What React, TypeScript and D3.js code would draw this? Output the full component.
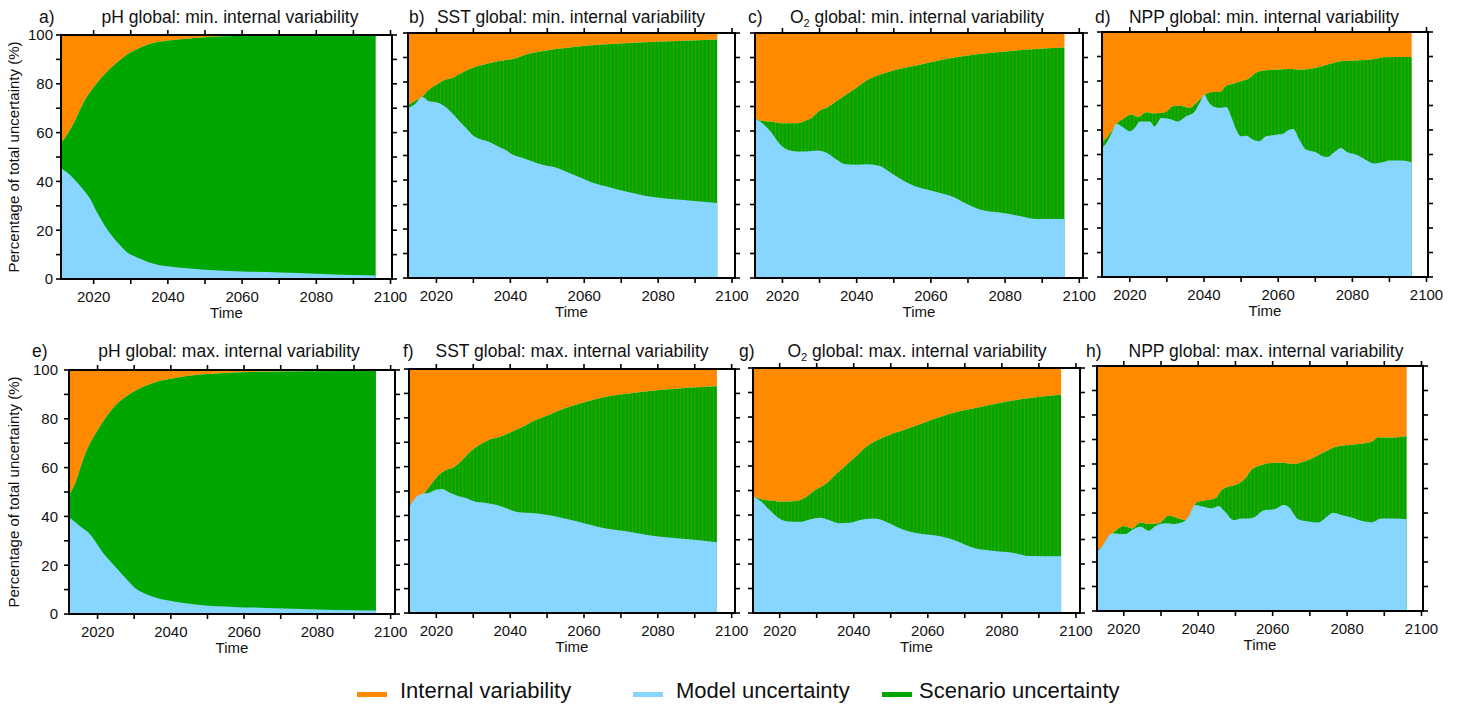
import React from 'react';
import * as d3 from 'd3';

type Pt = [number, number];

const ORANGE = '#ff8a00';
const BLUE = '#87d6ff';
const GREEN = '#00a600';
const FONT = '"Liberation Sans", Arial, Helvetica, sans-serif';

// [year, % of total uncertainty]
// "Model" = model uncertainty share, "Cum" = model + scenario share (top of the green band)

// a) pH min
const phMinModel: Pt[] = [
  [2011.2, 45.4], [2013, 43.5], [2015, 40.5], [2017, 37], [2019, 33], [2021, 27], [2023, 21.8],
  [2025, 17.5], [2027, 14], [2029, 11], [2031, 9.3], [2033, 8], [2035, 6.8],
  [2040, 5.2], [2045, 4.4], [2050, 3.8], [2060, 3.1], [2070, 2.7], [2080, 2.2], [2090, 1.6], [2096, 1.4],
];
const phMinCum: Pt[] = [
  [2011.2, 55.7], [2013, 59.5], [2015, 65], [2017, 71.5], [2019, 76.5], [2021, 80.5], [2023, 84],
  [2025, 87], [2027, 89.7], [2029, 92], [2031.5, 94.1], [2035, 96.3], [2040, 97.7],
  [2048.6, 98.9], [2057.7, 99.6], [2096, 99.8],
];

// b) SST min
const sstMinModel: Pt[] = [
  [2012.3, 69.4], [2014, 70.7], [2016.2, 73.9], [2018, 72.1], [2020, 71.7], [2022, 70.3], [2023.8, 68],
  [2026, 64.4], [2028, 61.2], [2030, 58.1], [2031.8, 56.7], [2034.5, 55.4], [2036.7, 53.7], [2038.5, 52.4],
  [2040.7, 50.3], [2043.4, 49], [2046, 47.6], [2049.6, 45.9], [2051.9, 45.3], [2055, 43.5], [2058.6, 41.2],
  [2062.1, 39], [2066.6, 37.1], [2071, 35.4], [2076.4, 33.6], [2080.9, 32.7], [2085.4, 32], [2089.8, 31.4],
  [2096, 30.6],
];
const sstMinCum: Pt[] = [
  [2012.3, 70.5], [2014, 72.1], [2016.2, 74.1], [2018, 76.9], [2020, 78.9], [2022, 80.7], [2024.2, 81.6],
  [2026.4, 83.4], [2029, 85.3], [2031.8, 86.7], [2034.5, 87.8], [2038, 88.8], [2040.7, 89.4], [2045.2, 91.6],
  [2049.6, 92.9], [2055, 93.9], [2060.4, 94.8], [2067.5, 95.5], [2076.4, 96.2], [2085.4, 96.7], [2096, 97.3],
];

// c) O2 min
const o2MinModel: Pt[] = [
  [2012.6, 65.2], [2014.6, 63.2], [2016.8, 59.8], [2019.1, 55], [2021.4, 52.3], [2024, 51.6], [2026.3, 51.6],
  [2029.5, 52], [2031.7, 51.2], [2034.4, 48.5], [2037.1, 46.4], [2039.8, 46.2], [2042.5, 46.4], [2046.1, 45.8],
  [2048.8, 43.4], [2051.5, 40.7], [2055.1, 37.9], [2058.7, 36.2], [2062.3, 34.8], [2065.9, 33.2], [2069.5, 30.4],
  [2073.2, 28], [2076.8, 27], [2080.4, 26.3], [2084.9, 25], [2088.5, 24.1], [2096, 24.1],
];
const o2MinCum: Pt[] = [
  [2012.6, 65.2], [2014.6, 64.1], [2017.3, 63.8], [2019.5, 63.2], [2021.8, 63.2], [2024, 63.2], [2026.3, 64.3],
  [2027.7, 65.2], [2029.9, 68.2], [2032.2, 69.7], [2034.4, 72], [2037.1, 74.8], [2039.8, 77.5], [2042.5, 80.5],
  [2045.2, 82.5], [2047.9, 83.8], [2050.6, 85], [2055.1, 86.4], [2059.6, 88], [2064.1, 89.4], [2069.5, 90.7],
  [2075.9, 91.8], [2083.1, 92.9], [2089.4, 93.6], [2096, 94.1],
];

// d) NPP min
const nppMinModel: Pt[] = [
  [2012.5, 52.7], [2013.7, 54.7], [2015.1, 58.8], [2016.4, 62.6], [2017.8, 61.5], [2020, 59.5], [2021.3, 60.8],
  [2022.7, 63.5], [2025.4, 63.5], [2026.7, 61.5], [2028.5, 64.9], [2030.8, 64.5], [2033, 63.5], [2035.2, 65.6],
  [2037.5, 67.6], [2038.8, 71], [2040.2, 74.4], [2041.1, 71.7], [2042.4, 69.7], [2044.2, 69], [2046, 69.4],
  [2047.3, 65.6], [2048.7, 60.1], [2050, 57.4], [2051.4, 57.7], [2053.2, 56.1], [2054.9, 55.4], [2056.7, 57.4],
  [2059.4, 58.1], [2061.2, 58.5], [2063, 60.1], [2064.1, 60.4], [2065.7, 56.1], [2067.5, 52], [2070.2, 50.9],
  [2072, 49.3], [2073.3, 49], [2075.1, 50.9], [2076.9, 52.7], [2078.7, 50.9], [2080.9, 50], [2083.6, 47.9],
  [2085.9, 46.3], [2088.1, 46.8], [2089.9, 47.6], [2093.5, 47.6], [2096, 46.8],
];
const nppMinCum: Pt[] = [
  [2012.5, 54.7], [2013.7, 56.7], [2015.1, 59.5], [2016.4, 62.6], [2018.2, 64.5], [2020.4, 66.3], [2022.2, 65.3],
  [2024.5, 67.2], [2026.3, 66.7], [2028.1, 66.9], [2029.9, 67.6], [2031.6, 69.7], [2033.4, 69.9], [2036.1, 69],
  [2037.9, 71], [2040.2, 74.4], [2042.4, 75.5], [2044.2, 75.5], [2046, 78.1], [2047.8, 78.9], [2050, 79.9],
  [2052.3, 81.2], [2054.1, 83.5], [2056.7, 84.4], [2059.4, 84.6], [2063, 84.9], [2065.7, 84.6], [2068.4, 84.9],
  [2071.1, 85.7], [2073.8, 86.9], [2076.5, 88], [2080.9, 88.4], [2086.3, 89], [2088.1, 89.7], [2096, 89.8],
];

// e) pH max
const phMaxModel: Pt[] = [
  [2012.2, 39.7], [2014.3, 37.2], [2016.2, 34.8], [2017.5, 33.4], [2019.4, 29.7], [2021.2, 25.6], [2023.5, 21.6],
  [2025.7, 17.9], [2028, 14.1], [2030.3, 10.6], [2032.6, 8.6], [2035.3, 7], [2039, 5.6], [2043.5, 4.5],
  [2048.1, 3.7], [2057.2, 2.9], [2066.3, 2.5], [2075.4, 2], [2084.5, 1.6], [2096, 1.4],
];
const phMaxCum: Pt[] = [
  [2012.2, 48.8], [2013.9, 53.6], [2015.7, 61.8], [2017.5, 68.6], [2019.8, 74.8], [2022.1, 80.2], [2024.4, 84.7],
  [2027.1, 88.4], [2029.8, 91.1], [2032.6, 93.2], [2036.2, 95.2], [2040.8, 96.6], [2045.3, 97.7], [2052.6, 98.6],
  [2061.8, 99.2], [2075.4, 99.5], [2096, 99.6],
];

// f) SST max
const sstMaxModel: Pt[] = [
  [2012.6, 43], [2013.9, 46.4], [2016.2, 48.9], [2018, 49.2], [2019.8, 50.5], [2021.6, 50.8], [2023.4, 49.5],
  [2025.7, 48.1], [2028, 47.1], [2030.2, 45.8], [2033.4, 45.1], [2036.1, 44.4], [2038.8, 43], [2042.4, 41.3],
  [2046.1, 41], [2049.7, 40.3], [2052.4, 39.6], [2056, 38.3], [2060.5, 36.6], [2066, 34.6], [2071.4, 33.5],
  [2076.8, 32.1], [2082.3, 31], [2087.7, 30.3], [2096, 29],
];
const sstMaxCum: Pt[] = [
  [2012.6, 43.9], [2014.4, 46.7], [2016.7, 49.2], [2018.5, 52.6], [2020.7, 56.7], [2022.5, 58.5], [2024.8, 59.8],
  [2027.1, 62.8], [2029.3, 66.3], [2031.6, 68.7], [2034.3, 71], [2037, 72.1], [2039.7, 73.8], [2043.3, 76.2],
  [2047, 79.2], [2050.6, 81.3], [2054.2, 83.6], [2058.7, 85.8], [2063.3, 87.7], [2067.8, 89.1], [2073.2, 90.2],
  [2078.6, 91.1], [2084.1, 91.8], [2090.4, 92.5], [2096, 92.9],
];

// g) O2 max
const o2MaxModel: Pt[] = [
  [2012.8, 47.7], [2015.1, 45.4], [2017.3, 42], [2019.6, 38.9], [2021.8, 37.5], [2025.4, 37.2], [2028.1, 38.2],
  [2030.8, 38.9], [2033.5, 37.9], [2036.2, 36.6], [2038.8, 36.8], [2041.5, 37.9], [2045.1, 38.6], [2046.9, 38.3],
  [2049.6, 36.6], [2053.2, 34.1], [2056.8, 32.7], [2060.4, 31.9], [2064, 31.1], [2067.6, 29.5], [2073, 26.3],
  [2077.4, 25.4], [2082.8, 24.6], [2087.3, 23.3], [2096, 23.2],
];
const o2MaxCum: Pt[] = [
  [2012.8, 47.7], [2015.1, 46.4], [2018.2, 45.8], [2020.9, 45.4], [2024.5, 45.7], [2027.2, 47.5], [2029.9, 50.5],
  [2032.6, 52.9], [2035.3, 56.8], [2038, 60.4], [2040.7, 64.1], [2043.4, 67.9], [2046, 70.3], [2049.6, 72.7],
  [2054.1, 75], [2058.6, 77.5], [2063.1, 79.9], [2068.5, 82.3], [2073.9, 84], [2079.3, 85.7], [2085.5, 87.3],
  [2090.9, 88.4], [2096, 89.1],
];

// h) NPP max
const nppMaxModel: Pt[] = [
  [2012.8, 24.2], [2014.2, 26.3], [2015.5, 29.7], [2016.9, 31.7], [2018.7, 31.4], [2020.4, 31.4], [2022.2, 33.1],
  [2024.5, 34.4], [2026.7, 32.8], [2028.5, 34.7], [2031.2, 35.8], [2033.4, 35.5], [2035.6, 36.1], [2037.4, 38.5],
  [2039.2, 43.3], [2041.4, 42.6], [2043.7, 41.9], [2045.4, 42.9], [2047.2, 40.5], [2049.5, 37.1], [2051.7, 37.8],
  [2053.5, 37.8], [2055.3, 38.5], [2057.5, 41], [2060.6, 41.6], [2062.9, 43.3], [2064.2, 42.6], [2066.9, 37.4],
  [2069.6, 36.5], [2072.2, 36.1], [2074, 37.8], [2076.3, 40.1], [2078.5, 39.2], [2081.2, 38.2], [2084.7, 36.5],
  [2086.5, 36.2], [2089.2, 37.8], [2092.8, 37.8], [2096, 37.4],
];
const nppMaxCum: Pt[] = [
  [2012.8, 24.8], [2014.2, 26.3], [2015.5, 29.7], [2016.9, 31.7], [2018.2, 33.3], [2020, 34.7], [2022.2, 33.7],
  [2024.5, 36.1], [2026.7, 35.5], [2029.4, 35.8], [2032.1, 38.9], [2034.7, 37.8], [2036.5, 37.1], [2037.9, 39.9],
  [2039.6, 44.4], [2041.4, 45], [2044.6, 46], [2046.3, 49.4], [2048.1, 50.7], [2049.9, 51.4], [2052.6, 54.1],
  [2054.4, 57.8], [2057.1, 59.6], [2058.9, 60.3], [2062.5, 60.5], [2065.2, 60], [2067, 60.3], [2069.6, 61.6],
  [2072.3, 63.7], [2075, 65.7], [2077.2, 67.1], [2082.1, 68], [2086.6, 69.1], [2088.4, 70.9], [2091.1, 70.7],
  [2096, 71.4],
];

const legendLabels = ['Internal variability', 'Model uncertainty', 'Scenario uncertainty'];
const legendColors = [ORANGE, BLUE, GREEN];

type PanelCfg = {
  key: string;
  tag: string;
  variable: string;
  sub?: string;
  rest: string;
  model: Pt[];
  cum: Pt[];
  box: [number, number, number, number]; // left, top, right, bottom
  domain: [number, number];
  tagX: number;
  titleX: number;
  titleY: number;
  striped: boolean;
  yLabels: boolean;
  yGap: number;
};

const MIN = ' global: min. internal variability';
const MAX = ' global: max. internal variability';

const panels: PanelCfg[] = [
  { key: 'a', tag: 'a)', variable: 'pH', rest: MIN, model: phMinModel, cum: phMinCum,
    box: [61, 35, 392, 279], domain: [2011.2, 2100.4], tagX: 39, titleX: 230, titleY: 23, striped: false, yLabels: true, yGap: 8 },
  { key: 'b', tag: 'b)', variable: 'SST', rest: MIN, model: sstMinModel, cum: sstMinCum,
    box: [408, 33, 735, 278], domain: [2012.3, 2100.8], tagX: 409, titleX: 571, titleY: 23, striped: true, yLabels: false, yGap: 8 },
  { key: 'c', tag: 'c)', variable: 'O', sub: '2', rest: MIN, model: o2MinModel, cum: o2MinCum,
    box: [755, 33, 1083, 278], domain: [2012.6, 2101], tagX: 748, titleX: 917, titleY: 23, striped: true, yLabels: false, yGap: 8 },
  { key: 'd', tag: 'd)', variable: 'NPP', rest: MIN, model: nppMinModel, cum: nppMinCum,
    box: [1102, 32, 1428, 277], domain: [2012.5, 2100.4], tagX: 1095, titleX: 1264, titleY: 23, striped: true, yLabels: false, yGap: 8 },
  { key: 'e', tag: 'e)', variable: 'pH', rest: MAX, model: phMaxModel, cum: phMaxCum,
    box: [69, 370, 395, 614], domain: [2012.2, 2101.2], tagX: 32, titleX: 229, titleY: 357, striped: false, yLabels: true, yGap: 11 },
  { key: 'f', tag: 'f)', variable: 'SST', rest: MAX, model: sstMaxModel, cum: sstMaxCum,
    box: [409, 369, 735, 613], domain: [2012.6, 2100.9], tagX: 403, titleX: 572, titleY: 357, striped: true, yLabels: false, yGap: 8 },
  { key: 'g', tag: 'g)', variable: 'O', sub: '2', rest: MAX, model: o2MaxModel, cum: o2MaxCum,
    box: [753, 368, 1080, 613], domain: [2012.8, 2101.1], tagX: 739, titleX: 917, titleY: 357, striped: true, yLabels: false, yGap: 8 },
  { key: 'h', tag: 'h)', variable: 'NPP', rest: MAX, model: nppMaxModel, cum: nppMaxCum,
    box: [1097, 366, 1423, 611], domain: [2012.8, 2100.4], tagX: 1086, titleX: 1266, titleY: 357, striped: true, yLabels: false, yGap: 8 },
];

const TICK = 5;

function Panel({ p }: { p: PanelCfg }) {
  const [l, t, r, b] = p.box;
  const x = d3.scaleLinear().domain(p.domain).range([l, r]);
  const y = d3.scaleLinear().domain([0, 100]).range([b, t]);

  // internal variability: from top of green band to 100 %
  const internalArea = d3.area<Pt>()
    .x(d => x(d[0]))
    .y0(d => y(d[1]))
    .y1(y(100))
    .curve(d3.curveMonotoneX);
  const fromZero = d3.area<Pt>()
    .x(d => x(d[0]))
    .y0(y(0))
    .y1(d => y(d[1]))
    .curve(d3.curveMonotoneX);

  const xTicks = x.ticks(10);
  const yTicks = y.ticks(10);
  const yearW = x(2013) - x(2012);
  const pid = `stripes-${p.key}`;

  return (
    <g>
      {p.striped && (
        <defs>
          <pattern id={pid} patternUnits="userSpaceOnUse" x={x(2012)} y={t} width={yearW} height={b - t}>
            <rect width={yearW} height={b - t} fill={GREEN} />
            <line x1={0.4} x2={0.4} y1={0} y2={b - t} stroke={ORANGE} strokeOpacity={0.35} strokeWidth={0.8} />
          </pattern>
        </defs>
      )}
      <path d={internalArea(p.cum) || ''} fill={ORANGE} />
      <path d={fromZero(p.cum) || ''} fill={p.striped ? `url(#${pid})` : GREEN} />
      <path d={fromZero(p.model) || ''} fill={BLUE} />

      <rect x={l} y={t} width={r - l} height={b - t} fill="none" stroke="#000" strokeWidth={2} />

      {xTicks.map(v => (
        <g key={`x${v}`}>
          <line x1={x(v)} x2={x(v)} y1={t} y2={t - TICK} stroke="#000" strokeWidth={1.6} />
          <line x1={x(v)} x2={x(v)} y1={b} y2={b + TICK} stroke="#000" strokeWidth={1.6} />
          {v % 20 === 0 && (
            <text x={x(v)} y={b + 23} textAnchor="middle" fontSize={15} fontFamily={FONT} fill="#111">{v}</text>
          )}
        </g>
      ))}
      {yTicks.map(v => (
        <g key={`y${v}`}>
          <line x1={l} x2={l - TICK} y1={y(v)} y2={y(v)} stroke="#000" strokeWidth={1.6} />
          <line x1={r} x2={r + TICK} y1={y(v)} y2={y(v)} stroke="#000" strokeWidth={1.6} />
          {p.yLabels && v % 20 === 0 && (
            <text x={l - p.yGap} y={y(v)} dy="0.36em" textAnchor="end" fontSize={15} fontFamily={FONT} fill="#111">{v}</text>
          )}
        </g>
      ))}

      <text x={(l + r) / 2} y={b + 39} textAnchor="middle" fontSize={15} fontFamily={FONT} fill="#111">Time</text>
      {p.yLabels && (
        <text
          transform={`translate(${19},${(t + b) / 2}) rotate(-90)`}
          textAnchor="middle"
          fontSize={15}
          fontFamily={FONT}
          fill="#111"
        >
          Percentage of total uncertainty (%)
        </text>
      )}

      <text x={p.tagX} y={p.titleY} fontSize={17.5} fontFamily={FONT} fill="#111">{p.tag}</text>
      <text x={p.titleX} y={p.titleY} textAnchor="middle" fontSize={17.5} fontFamily={FONT} fill="#111">
        {p.variable}
        {p.sub && <tspan fontSize={11} dy={4}>{p.sub}</tspan>}
        {p.sub ? <tspan dy={-4}>{p.rest}</tspan> : p.rest}
      </text>
    </g>
  );
}

const legendSwatchX = [357, 633, 882];
const legendTextX = [400, 676, 919];

export default function App() {
  return (
    <div style={{ position: 'absolute', left: 0, top: 0 }}>
      <svg width={1457} height={706} style={{ display: 'block', background: '#fff' }}>
        {panels.map(p => <Panel key={p.key} p={p} />)}
        {legendLabels.map((label, i) => (
          <g key={label}>
            <rect x={legendSwatchX[i]} y={692} width={30} height={5} fill={legendColors[i]} />
            <text x={legendTextX[i]} y={698} fontSize={22} fontFamily={FONT} fill="#111">{label}</text>
          </g>
        ))}
      </svg>
    </div>
  );
}
